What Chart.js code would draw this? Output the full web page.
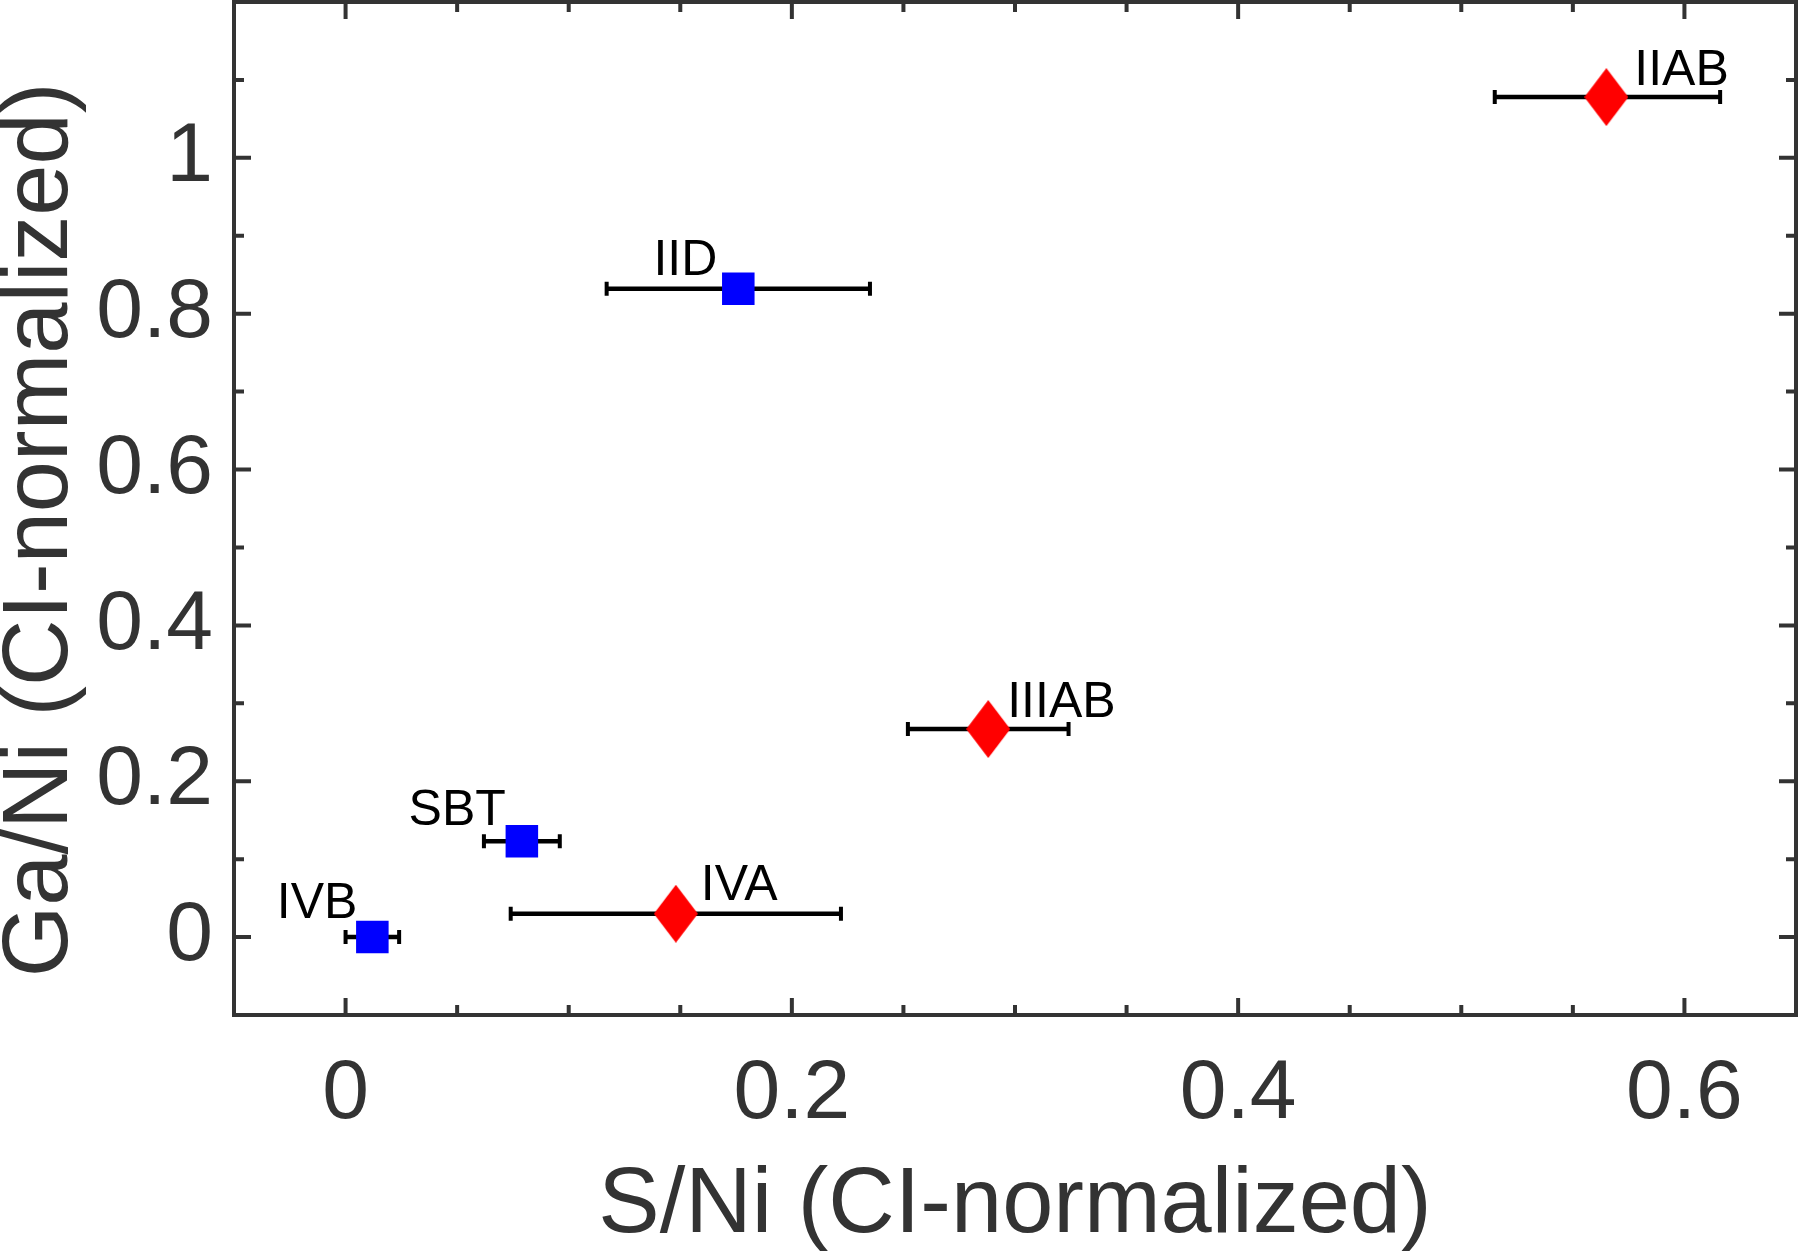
<!DOCTYPE html>
<html lang="en">
<head>
    <meta charset="UTF-8">
    <title>Ga/Ni vs S/Ni</title>
    <script src="https://cdn.jsdelivr.net/npm/chart.js"></script>
    <style>
        body { margin: 0; background: #fff; }
    </style>
</head>
<body>
    <canvas id="myChart" width="1800" height="1252"></canvas>
<script>
// iron meteorite groups, CI-normalized ratios
var blueNames = ['IVB', 'SBT', 'IID'];
var blueX = [0.012, 0.079, 0.176];
var blueY = [0.0, 0.123, 0.832];
var blueXLow = [0.0, 0.062, 0.117];
var blueXHigh = [0.024, 0.096, 0.235];

var redNames = ['IVA', 'IIIAB', 'IIAB'];
var redX = [0.148, 0.288, 0.565];
var redY = [0.030, 0.267, 1.078];
var redXLow = [0.074, 0.252, 0.515];
var redXHigh = [0.222, 0.324, 0.616];

var xTicks = [0, 0.2, 0.4, 0.6];
var xTickLabels = ['0', '0.2', '0.4', '0.6'];
var yTicks = [0, 0.2, 0.4, 0.6, 0.8, 1];
var yTickLabels = ['0', '0.2', '0.4', '0.6', '0.8', '1'];

var xTitle = 'S/Ni (CI-normalized)';
var yTitle = 'Ga/Ni (CI-normalized)';

// where each group name sits relative to its marker (px)
var labelPos = {
    IVB:   { align: 'right', dx: -15, dy: -19 },
    SBT:   { align: 'right', dx: -16, dy: -16 },
    IID:   { align: 'right', dx: -21, dy: -14 },
    IVA:   { align: 'left',  dx: 25,  dy: -14 },
    IIIAB: { align: 'left',  dx: 19,  dy: -12 },
    IIAB:  { align: 'left',  dx: 28,  dy: -12 }
};

var FONT = '"Liberation Sans", Arial, Helvetica, sans-serif';
var AXIS = '#333333';

// red diamond marker (taller than wide)
var diamond = document.createElement('canvas');
diamond.width = 44;
diamond.height = 58;
var dctx = diamond.getContext('2d');
dctx.fillStyle = '#ff0000';
dctx.beginPath();
dctx.moveTo(22, 0);
dctx.lineTo(44, 29);
dctx.lineTo(22, 58);
dctx.lineTo(0, 29);
dctx.closePath();
dctx.fill();

function toPoints(xs, ys, lo, hi, names) {
    return xs.map(function (x, i) {
        return { x: x, y: ys[i], xMin: lo[i], xMax: hi[i], name: names[i] };
    });
}

var data = {
    datasets: [
        {
            label: 'blue',
            data: toPoints(blueX, blueY, blueXLow, blueXHigh, blueNames),
            pointStyle: 'rect',
            pointRadius: 23,
            backgroundColor: '#0000ff',
            borderColor: '#0000ff',
            borderWidth: 0
        },
        {
            label: 'red',
            data: toPoints(redX, redY, redXLow, redXHigh, redNames),
            pointStyle: diamond,
            pointRadius: 29,
            backgroundColor: '#ff0000',
            borderWidth: 0
        }
    ]
};

// error bars, under the markers
var errorBars = {
    id: 'errorBars',
    beforeDatasetsDraw: function (chart) {
        var ctx = chart.ctx;
        var xs = chart.scales.x, ys = chart.scales.y;
        ctx.save();
        ctx.strokeStyle = '#000';
        chart.data.datasets.forEach(function (ds) {
            ds.data.forEach(function (p) {
                var y = ys.getPixelForValue(p.y);
                var x0 = xs.getPixelForValue(p.xMin);
                var x1 = xs.getPixelForValue(p.xMax);
                ctx.lineWidth = 4.5;
                ctx.beginPath();
                ctx.moveTo(x0, y);
                ctx.lineTo(x1, y);
                ctx.stroke();
                ctx.lineWidth = 4;
                ctx.beginPath();
                ctx.moveTo(x0, y - 7);
                ctx.lineTo(x0, y + 7);
                ctx.moveTo(x1, y - 7);
                ctx.lineTo(x1, y + 7);
                ctx.stroke();
            });
        });
        ctx.restore();
    }
};

// box frame with inward ticks on all four sides
var frame = {
    id: 'frame',
    afterDatasetsDraw: function (chart) {
        var ctx = chart.ctx;
        var a = chart.chartArea;
        var xs = chart.scales.x, ys = chart.scales.y;
        ctx.save();
        ctx.strokeStyle = AXIS;
        ctx.lineWidth = 4;
        ctx.beginPath();
        function tickX(v, len) {
            var px = xs.getPixelForValue(v);
            ctx.moveTo(px, a.bottom);
            ctx.lineTo(px, a.bottom - len);
            ctx.moveTo(px, a.top);
            ctx.lineTo(px, a.top + len);
        }
        function tickY(v, len) {
            var py = ys.getPixelForValue(v);
            ctx.moveTo(a.left, py);
            ctx.lineTo(a.left + len, py);
            ctx.moveTo(a.right, py);
            ctx.lineTo(a.right - len, py);
        }
        for (var i = -1; i <= 13; i++) {
            var v = i * 0.05;
            if (v < xs.min - 1e-9 || v > xs.max + 1e-9) continue;
            tickX(v, i % 4 === 0 ? 17 : 10);
        }
        for (var j = -1; j <= 12; j++) {
            var w = j * 0.1;
            if (w < ys.min - 1e-9 || w > ys.max + 1e-9) continue;
            tickY(w, j % 2 === 0 ? 17 : 10);
        }
        ctx.stroke();
        ctx.strokeRect(a.left, a.top, a.right - a.left, a.bottom - a.top);

        // axis titles
        ctx.fillStyle = AXIS;
        ctx.font = '92px ' + FONT;
        ctx.textAlign = 'center';
        ctx.textBaseline = 'alphabetic';
        ctx.fillText(xTitle, (a.left + a.right) / 2, 1232);
        ctx.translate(67, 530);
        ctx.rotate(-Math.PI / 2);
        ctx.fillText(yTitle, 0, 0);
        ctx.restore();

        // group names
        ctx.save();
        ctx.fillStyle = '#000';
        ctx.font = '50px ' + FONT;
        ctx.textBaseline = 'alphabetic';
        chart.data.datasets.forEach(function (ds) {
            ds.data.forEach(function (p) {
                var lp = labelPos[p.name];
                ctx.textAlign = lp.align;
                ctx.fillText(p.name, xs.getPixelForValue(p.x) + lp.dx, ys.getPixelForValue(p.y) + lp.dy);
            });
        });
        ctx.restore();
    }
};

var options = {
    responsive: false,
    animation: false,
    layout: { autoPadding: false, padding: { top: 2, right: 4, left: 0, bottom: 0 } },
    plugins: {
        legend: { display: false },
        tooltip: { enabled: false }
    },
    scales: {
        x: {
            type: 'linear',
            min: -0.05,
            max: 0.65,
            grid: { display: false, drawTicks: false },
            border: { display: false },
            afterBuildTicks: function (s) {
                s.ticks = xTicks.map(function (v) { return { value: v }; });
            },
            afterFit: function (s) {
                s.height = 237;
                s.paddingLeft = 0;
                s.paddingRight = 0;
            },
            ticks: {
                padding: 29,
                color: AXIS,
                font: { family: FONT, size: 84 },
                maxRotation: 0,
                callback: function (v) {
                    var k = xTicks.indexOf(v);
                    return k >= 0 ? xTickLabels[k] : '';
                }
            }
        },
        y: {
            type: 'linear',
            min: -0.1,
            max: 1.2,
            grid: { display: false, drawTicks: false },
            border: { display: false },
            afterBuildTicks: function (s) {
                s.ticks = yTicks.map(function (v) { return { value: v }; });
            },
            afterFit: function (s) {
                s.width = 234;
                s.paddingTop = 0;
                s.paddingBottom = 0;
            },
            ticks: {
                padding: 21,
                color: AXIS,
                font: { family: FONT, size: 84 },
                callback: function (v) {
                    var k = yTicks.indexOf(v);
                    return k >= 0 ? yTickLabels[k] : '';
                }
            }
        }
    }
};

var ctx = document.getElementById('myChart').getContext('2d');
var myChart = new Chart(ctx, {
    type: 'scatter',
    data: data,
    options: options,
    plugins: [errorBars, frame]
});
</script>
</body>
</html>
